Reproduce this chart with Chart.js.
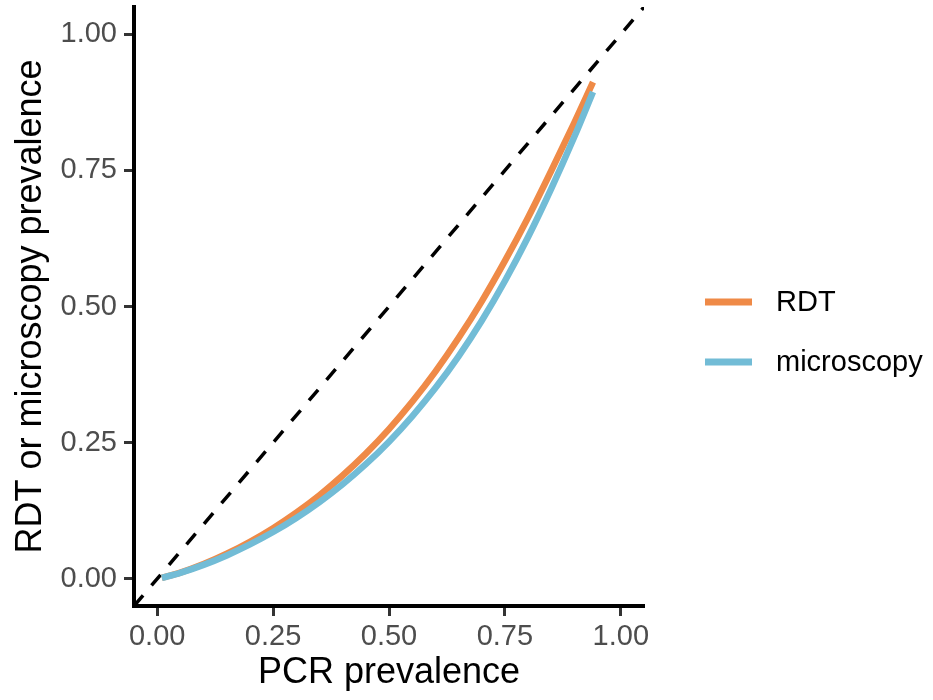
<!DOCTYPE html>
<html>
<head>
<meta charset="utf-8">
<script src="https://cdn.jsdelivr.net/npm/chart.js@4.4.1/dist/chart.umd.min.js"></script>
<style>
  html, body { margin: 0; padding: 0; background: #ffffff; }
  #wrap { width: 933px; height: 700px; }
</style>
</head>
<body>
<div id="wrap"><canvas id="c" width="933" height="700"></canvas></div>
<script>
// ---- data ----
const pcrPrevalence = [0.01, 0.05, 0.10, 0.15, 0.20, 0.25, 0.30, 0.35, 0.40, 0.45, 0.50,
                       0.55, 0.60, 0.65, 0.70, 0.75, 0.80, 0.85, 0.90, 0.94];
const rdtPrevalence = [0.0016, 0.0113, 0.0270, 0.0459, 0.0679, 0.0930, 0.1215, 0.1535, 0.1897, 0.2299, 0.2749,
                       0.3250, 0.3804, 0.4420, 0.5095, 0.5837, 0.6635, 0.7493, 0.8381, 0.9120];
const microscopyPrevalence = [0.0016, 0.0109, 0.0255, 0.0429, 0.0630, 0.0858, 0.1117, 0.1409, 0.1736, 0.2104, 0.2518,
                              0.2984, 0.3502, 0.4085, 0.4738, 0.5469, 0.6276, 0.7165, 0.8122, 0.8940];
const identityLine = [-0.05, 1.05];
const seriesLabels = ["RDT", "microscopy"];
const tickValues = [0, 0.25, 0.5, 0.75, 1];
const tickLabels = ["0.00", "0.25", "0.50", "0.75", "1.00"];
const xTitle = "PCR prevalence";
const yTitle = "RDT or microscopy prevalence";

const ORANGE = "#EF8A47";
const BLUE = "#72BCD6";
const FONT = "'Liberation Sans', Arial, 'DejaVu Sans', sans-serif";

const toPoints = (xs, ys) => xs.map((x, i) => ({ x: x, y: ys[i] }));

const legendPlugin = {
  id: 'customLegend',
  afterDraw(chart) {
    const ctx = chart.ctx;
    const items = [
      { label: seriesLabels[0], color: ORANGE, y: 302 },
      { label: seriesLabels[1], color: BLUE, y: 362 }
    ];
    ctx.save();
    items.forEach(it => {
      ctx.beginPath();
      ctx.strokeStyle = it.color;
      ctx.lineWidth = 7;
      ctx.lineCap = 'butt';
      ctx.moveTo(705, it.y);
      ctx.lineTo(752, it.y);
      ctx.stroke();
      ctx.fillStyle = '#000000';
      ctx.font = "29px " + FONT;
      ctx.textAlign = 'left';
      ctx.textBaseline = 'middle';
      ctx.fillText(it.label, 776, it.y + 1);
    });
    ctx.restore();
  }
};

const setTicks = (scale) => { scale.ticks = tickValues.map(v => ({ value: v })); };
const labelFor = (v) => { const i = tickValues.indexOf(v); return i >= 0 ? tickLabels[i] : ''; };

new Chart(document.getElementById('c'), {
  type: 'line',
  data: {
    datasets: [
      {
        label: 'identity',
        data: toPoints(identityLine, identityLine),
        borderColor: '#000000',
        borderWidth: 3.5,
        borderDash: [14, 13],
        borderCapStyle: 'butt',
        pointRadius: 0,
        fill: false,
        order: 2
      },
      {
        label: seriesLabels[0],
        data: toPoints(pcrPrevalence, rdtPrevalence),
        borderColor: ORANGE,
        borderWidth: 6.5,
        borderCapStyle: 'butt',
        cubicInterpolationMode: 'monotone',
        pointRadius: 0,
        fill: false,
        order: 1
      },
      {
        label: seriesLabels[1],
        data: toPoints(pcrPrevalence, microscopyPrevalence),
        borderColor: BLUE,
        borderWidth: 6.5,
        borderCapStyle: 'butt',
        cubicInterpolationMode: 'monotone',
        pointRadius: 0,
        fill: false,
        order: 0
      }
    ]
  },
  options: {
    responsive: false,
    animation: false,
    events: [],
    layout: { autoPadding: false, padding: { left: 0, top: 7, right: 289, bottom: 0 } },
    plugins: { legend: { display: false }, tooltip: { enabled: false } },
    scales: {
      x: {
        type: 'linear',
        min: -0.05,
        max: 1.05,
        afterBuildTicks: setTicks,
        afterFit: (s) => { s.height = 94; s.paddingLeft = 0; s.paddingRight = 0; },
        border: { display: true, color: '#000000', width: 4 },
        grid: { display: true, drawOnChartArea: false, drawTicks: true, tickLength: 10, tickWidth: 3, tickColor: '#333333' },
        ticks: { color: '#4D4D4D', padding: 4, maxRotation: 0, autoSkip: false, font: { family: FONT, size: 29 }, callback: labelFor },
        title: { display: true, text: xTitle, color: '#000000', padding: { top: 0, bottom: 5 }, font: { family: FONT, size: 36 } }
      },
      y: {
        type: 'linear',
        min: -0.05,
        max: 1.05,
        afterBuildTicks: setTicks,
        afterFit: (s) => { s.width = 134; s.paddingTop = 0; s.paddingBottom = 0; },
        border: { display: true, color: '#000000', width: 4 },
        grid: { display: true, drawOnChartArea: false, drawTicks: true, tickLength: 10, tickWidth: 3, tickColor: '#333333' },
        ticks: { color: '#4D4D4D', padding: 7, autoSkip: false, font: { family: FONT, size: 29 }, callback: labelFor },
        title: { display: true, text: yTitle, color: '#000000', padding: { top: 9, bottom: 0 }, font: { family: FONT, size: 36 } }
      }
    }
  },
  plugins: [legendPlugin]
});
</script>
</body>
</html>
